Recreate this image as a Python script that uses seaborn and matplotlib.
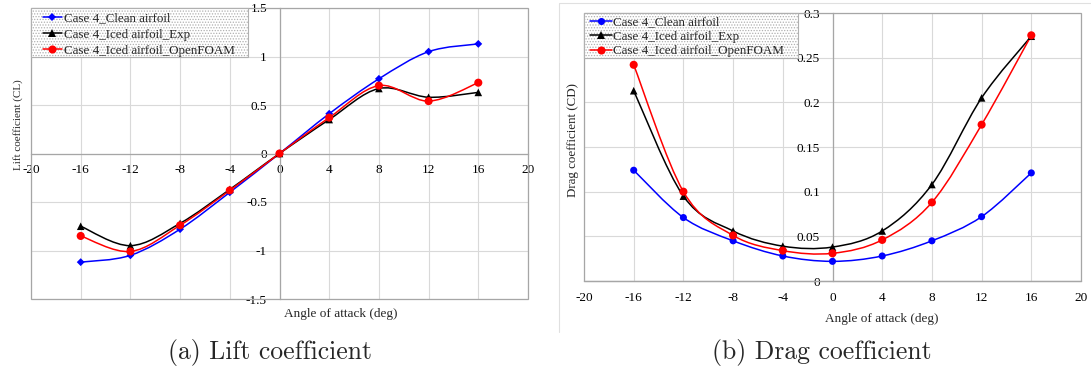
import numpy as np
import pandas as pd
import matplotlib
matplotlib.use("Agg")
from matplotlib import pyplot as plt
from matplotlib.path import Path
from matplotlib.patches import PathPatch, Rectangle
from matplotlib.lines import Line2D
from matplotlib.ticker import FuncFormatter
import seaborn as sns

# data
aoa = [-16, -12, -8, -4, 0, 4, 8, 12, 16]
series_names = ["Case 4_Clean airfoil", "Case 4_Iced airfoil_Exp", "Case 4_Iced airfoil_OpenFOAM"]

cl_clean = [-1.12, -1.05, -0.78, -0.40, 0.0, 0.41, 0.77, 1.05, 1.13]
cl_exp = [-0.75, -0.95, -0.72, -0.37, 0.0, 0.35, 0.67, 0.58, 0.63]
cl_foam = [-0.85, -1.01, -0.74, -0.38, 0.0, 0.37, 0.70, 0.54, 0.73]

cd_clean = [0.124, 0.071, 0.045, 0.028, 0.022, 0.028, 0.045, 0.072, 0.121]
cd_exp = [0.213, 0.095, 0.056, 0.039, 0.038, 0.056, 0.108, 0.205, 0.274]
cd_foam = [0.242, 0.100, 0.051, 0.034, 0.031, 0.046, 0.088, 0.175, 0.275]

colors = ["#0000ff", "#000000", "#ff0000"]

sns.set_theme(style="white")
plt.rcParams["font.family"] = ["Liberation Serif", "DejaVu Serif"]
plt.rcParams["axes.unicode_minus"] = False
plt.rcParams["hatch.linewidth"] = 0.6

GRID = "#d9d9d9"
AXIS = "#a6a6a6"
W, H = 1091, 374


def smooth_path(xs, ys):
    # excel-like smoothed line (catmull-rom as cubic bezier)
    pts = np.column_stack([xs, ys]).astype(float)
    n = len(pts)
    verts = [pts[0]]
    codes = [Path.MOVETO]
    for i in range(n - 1):
        p0 = pts[max(i - 1, 0)]
        p1 = pts[i]
        p2 = pts[i + 1]
        p3 = pts[min(i + 2, n - 1)]
        verts += [p1 + (p2 - p0) / 6, p2 - (p3 - p1) / 6, p2]
        codes += [Path.CURVE4] * 3
    return Path(verts, codes)


def draw_panel(ax, values, markers, sizes, ylim, ystep, centered, leg_box, leg_anchor,
               handle_len, leg_spacing):
    df = pd.DataFrame({
        "aoa": aoa * 3,
        "value": sum(values, []),
        "series": [s for s in series_names for _ in aoa],
    })
    for vals, c in zip(values, colors):
        ax.add_patch(PathPatch(smooth_path(aoa, vals), fill=False, ec=c, lw=1.1, zorder=3))
    sns.scatterplot(data=df, x="aoa", y="value", hue="series", style="series",
                    palette=dict(zip(series_names, colors)),
                    markers=dict(zip(series_names, markers)),
                    size="series", sizes=dict(zip(series_names, sizes)),
                    edgecolor="none", legend=False, ax=ax, zorder=4)

    ax.set_xlim(-20, 20)
    ax.set_ylim(*ylim)
    ax.set_xticks(np.arange(-20, 21, 4))
    ax.set_yticks(np.arange(ylim[0], ylim[1] + ystep / 2, ystep))
    fmt = FuncFormatter(lambda v, p: "{:g}".format(round(v, 4)))
    ax.xaxis.set_major_formatter(fmt)
    ax.yaxis.set_major_formatter(fmt)
    ax.grid(True, color=GRID, lw=0.8)
    ax.set_axisbelow(True)

    ax.spines["left"].set_position(("data", 0))
    if centered:
        ax.spines["bottom"].set_position(("data", 0))
    for side in ["left", "bottom"]:
        ax.spines[side].set_color(AXIS)
        ax.spines[side].set_linewidth(0.9)
    ax.spines["top"].set_visible(False)
    ax.spines["right"].set_visible(False)
    ax.add_patch(Rectangle((0, 0), 1, 1, transform=ax.transAxes, fill=False,
                           ec=AXIS, lw=0.9, clip_on=False, zorder=2))
    ax.tick_params(axis="both", length=0, labelsize=9.5, labelcolor="black")
    ax.tick_params(axis="y", pad=9)
    ax.tick_params(axis="x", pad=7.5 if centered else 8)

    # dotted legend box, then the legend entries on top of it
    ax.add_patch(Rectangle(leg_box[:2], leg_box[2], leg_box[3], transform=ax.transAxes,
                           facecolor="white", ec="#b0b0b0", lw=0.8, hatch="......",
                           zorder=5, clip_on=False))
    handles = [Line2D([], [], color=c, marker=m, markersize=np.sqrt(s), lw=1.1, markeredgewidth=0)
               for c, m, s in zip(colors, markers, sizes)]
    leg = ax.legend(handles, series_names, loc="upper left", bbox_to_anchor=leg_anchor,
                    borderaxespad=0, frameon=False, fontsize=9.4, handlelength=handle_len,
                    handletextpad=0.1, labelspacing=leg_spacing, borderpad=0.05)
    leg.set_zorder(6)


fig = plt.figure(figsize=(10.91, 3.74), dpi=100)

ax1 = fig.add_axes([31 / W, 1 - 299 / H, 497 / W, 291 / H])
draw_panel(ax1, [cl_clean, cl_exp, cl_foam], ["D", "^", "o"], [16, 30, 34],
           (-1.5, 1.5), 0.5, True,
           (0, 1 - 49 / 291, 217 / 497, 49 / 291), (11 / 497, 1 - 3.5 / 291), 1.5, 0.32)
ax1.set_xlabel("Angle of attack (deg)", fontsize=9.5)
ax1.set_ylabel("Lift coefficient (CL)", fontsize=8)
ax1.xaxis.set_label_coords(0.624, -0.031)
ax1.yaxis.set_label_coords(-0.016, 0.598)

ax2 = fig.add_axes([584 / W, 1 - 281 / H, 497 / W, 268 / H])
draw_panel(ax2, [cd_clean, cd_exp, cd_foam], ["o", "^", "o"], [26, 30, 34],
           (0, 0.3), 0.05, False,
           (0, 1 - 45 / 268, 214 / 497, 45 / 268), (5 / 497, 1 - 2.5 / 268), 1.7, 0.18)
ax2.set_xlabel("Angle of attack (deg)", fontsize=9.5)
ax2.set_ylabel("Drag coefficient (CD)", fontsize=9.4)
ax2.xaxis.set_label_coords(0.6, -0.119)
ax2.yaxis.set_label_coords(-0.01, 0.526)

# chart area border of the right figure (top and left edges)
fig.add_artist(Line2D([559 / W, 559 / W, 1.0], [1 - 332 / H, 1 - 3 / H, 1 - 3 / H],
                      transform=fig.transFigure, color="#e0e0e0", lw=0.8))

fig.text(270 / W, 1 - 353 / H, "(a) Lift coefficient", family="cmr10", fontsize=18.5,
         ha="center", va="center")
fig.text(822 / W, 1 - 353 / H, "(b) Drag coefficient", family="cmr10", fontsize=18.5,
         ha="center", va="center")

fig.savefig("out.png", dpi=100)
